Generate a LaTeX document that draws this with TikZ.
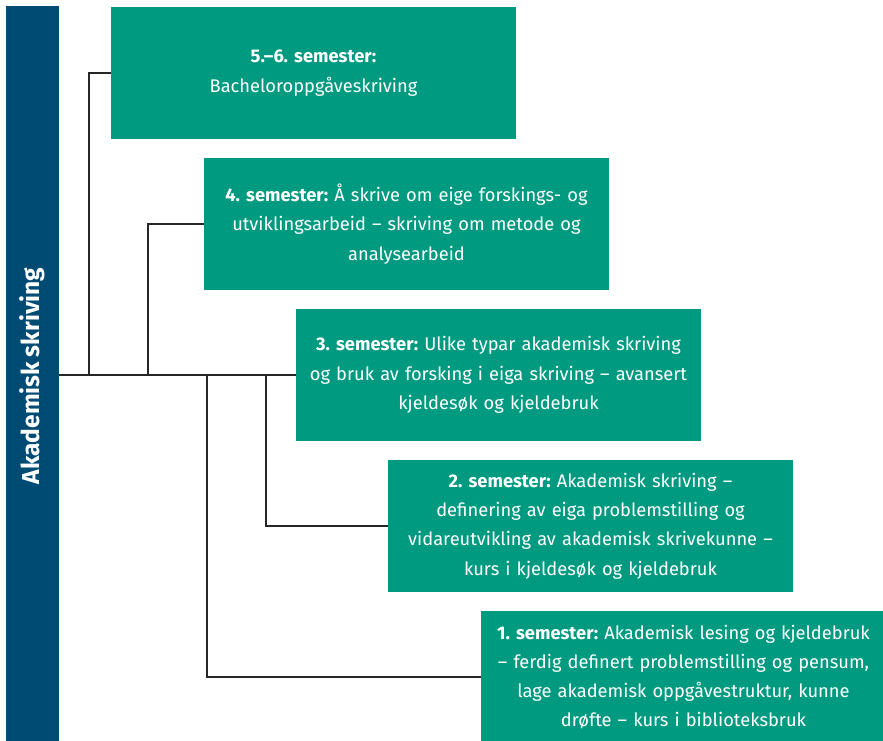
\documentclass[tikz,border=0pt]{standalone}
\usepackage{fontspec}
\setmainfont[WordSpace=0.85]{Fira Sans}
\frenchspacing
\definecolor{barblue}{RGB}{0,75,115}
\definecolor{semgreen}{RGB}{0,154,128}
\tikzset{
  sembox/.style={fill=semgreen, text=white, minimum width=405pt, minimum height=132pt,
    text width=400pt, align=center, inner sep=0pt,
    font=\fontsize{18.3}{29.3}\selectfont},
  link/.style={draw=black!85, line width=1.4pt}
}
\begin{document}
\begin{tikzpicture}[x=1pt,y=-1pt]
  \useasboundingbox (0,0) rectangle (883,741);
  % left bar
  \node[fill=barblue, minimum width=53pt, minimum height=741pt, inner sep=0pt] (bar) at (32.5,376.5) {};
  \node[rotate=90, text=white, font=\fontsize{24.5}{26}\selectfont\bfseries] (title) at (bar.center |- 0,376) {Akademisk skriving};
  % semester boxes
  \node[sembox] (b56) at (313.5,73) {\textbf{5.–6. semester:}\\Bacheloroppgåveskriving};
  \node[sembox] (b4) at (406.5,224) {\textbf{4. semester:} Å skrive om eige forskings- og\\utviklingsarbeid – skriving om metode og\\analysearbeid};
  \node[sembox] (b3) at (498.5,375) {\textbf{3. semester:} Ulike typar akademisk skriving\\og bruk av forsking i eiga skriving – avansert\\kjeldesøk og kjeldebruk};
  \node[sembox] (b2) at (590.5,526) {\textbf{2. semester:} Akademisk skriving –\\definering av eiga problemstilling og\\vidareutvikling av akademisk skrivekunne –\\kurs i kjeldesøk og kjeldebruk};
  \node[sembox] (b1) at (683.5,677) {\textbf{1. semester:} Akademisk lesing og kjeldebruk\\– ferdig definert problemstilling og pensum,\\lage akademisk oppgåvestruktur, kunne\\drøfte – kurs i biblioteksbruk};
  % trunk
  \coordinate (j56) at (89,375);
  \coordinate (j4) at (148,375);
  \coordinate (j1) at (207,375);
  \coordinate (j2) at (266,375);
  \draw[link] (bar.east |- b3) -- (b3.west);
  % branches
  \draw[link] (j56) |- (b56.west);
  \draw[link] (j4) |- (b4.west);
  \draw[link] (j1) |- (b1.west);
  \draw[link] (j2) |- (b2.west);
\end{tikzpicture}
\end{document}
